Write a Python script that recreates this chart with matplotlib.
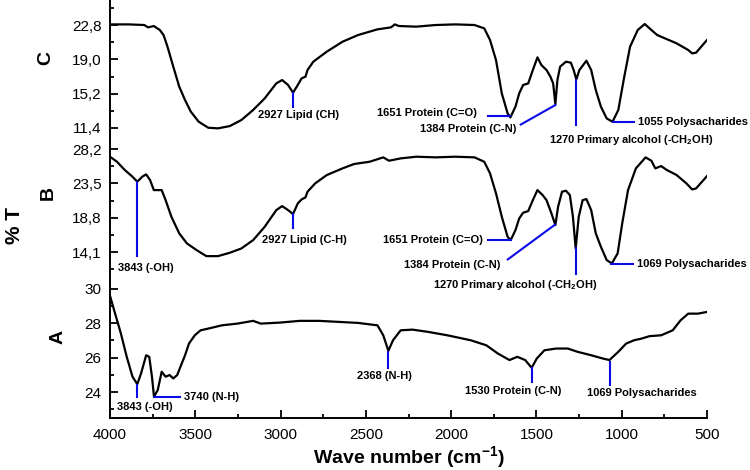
import matplotlib
matplotlib.use('Agg')
from matplotlib import pyplot as plt
from matplotlib.ticker import MultipleLocator, FixedLocator

plt.rcParams['font.family'] = ['Liberation Sans', 'DejaVu Sans']
plt.rcParams['mathtext.fontset'] = 'custom'
plt.rcParams['mathtext.rm'] = 'Liberation Sans'
plt.rcParams['mathtext.bf'] = 'Liberation Sans:bold'
plt.rcParams['mathtext.default'] = 'bf'

# spectrum C
wn_c = [3993, 3891, 3799, 3777, 3743, 3708, 3686, 3663, 3629, 3594, 3560, 3526, 3480, 3424, 3367,
        3298, 3230, 3161, 3093, 3025, 2991, 2956, 2927, 2899, 2877, 2854, 2842, 2808, 2729, 2637,
        2546, 2432, 2353, 2330, 2307, 2204, 2091, 1977, 1863, 1806, 1772, 1737, 1703, 1669, 1653,
        1623, 1601, 1578, 1548, 1521, 1494, 1471, 1441, 1418, 1402, 1389, 1377, 1361, 1327, 1298,
        1282, 1266, 1248, 1207, 1179, 1152, 1122, 1088, 1054, 1020, 985, 951, 906, 865, 826,
        792, 746, 678, 610, 587, 564, 500]
t_c = [22.87, 22.87, 22.80, 22.54, 22.69, 22.25, 21.69, 20.40, 18.19, 15.97, 14.49, 13.20, 12.09, 11.43, 11.36,
       11.61, 12.28, 13.39, 14.68, 16.34, 16.71, 16.16, 15.31, 16.16, 16.89, 17.08, 17.82, 18.74, 19.85, 20.95,
       21.69, 22.32, 22.54, 22.87, 22.69, 22.62, 22.80, 22.87, 22.80, 22.43, 21.14, 18.92, 15.23, 13.02, 12.57,
       13.76, 15.23, 16.16, 16.34, 17.82, 19.22, 18.37, 17.82, 17.08, 16.34, 14.05, 16.71, 18.19, 18.74, 18.63,
       17.82, 16.78, 17.82, 18.85, 17.82, 15.60, 13.76, 12.46, 12.09, 13.39, 17.08, 20.40, 22.25, 22.91, 22.25,
       21.69, 21.32, 20.77, 20.03, 19.66, 19.74, 21.14]

# spectrum B
wn_b = [4000, 3959, 3913, 3868, 3840, 3811, 3788, 3765, 3743, 3720, 3697, 3674, 3640, 3594, 3549,
        3492, 3435, 3367, 3298, 3230, 3161, 3093, 3025, 2991, 2956, 2927, 2899, 2877, 2854, 2842,
        2797, 2729, 2637, 2569, 2478, 2398, 2364, 2296, 2204, 2091, 1977, 1863, 1806, 1772, 1737,
        1703, 1669, 1651, 1623, 1601, 1578, 1548, 1521, 1494, 1464, 1441, 1412, 1389, 1373, 1350,
        1327, 1304, 1286, 1270, 1252, 1229, 1207, 1179, 1152, 1122, 1088, 1058, 1024, 997, 963,
        917, 860, 826, 803, 769, 735, 678, 621, 587, 564, 500]
t_b = [27.15, 26.46, 25.32, 24.41, 23.73, 24.41, 24.73, 23.95, 22.58, 22.58, 22.58, 21.21, 18.93, 16.65, 15.28,
       14.36, 13.54, 13.54, 14.00, 14.59, 15.73, 17.56, 19.84, 20.39, 19.84, 19.30, 20.76, 21.30, 21.58, 22.36,
       23.50, 24.64, 25.55, 26.15, 26.46, 27.06, 26.60, 26.92, 27.15, 27.06, 27.15, 27.06, 26.46, 24.87, 22.13,
       18.93, 16.19, 15.73, 17.10, 18.70, 19.48, 19.71, 21.21, 22.58, 21.90, 21.21, 19.39, 17.79, 20.30, 22.36,
       22.49, 21.90, 18.93, 14.59, 18.93, 21.21, 21.35, 19.84, 16.65, 14.82, 13.00, 12.54, 13.91, 18.02, 22.58,
       25.55, 27.06, 26.60, 25.55, 25.87, 25.32, 24.64, 23.50, 22.67, 22.81, 24.50]

# spectrum A
wn_a = [4000, 3970, 3936, 3902, 3868, 3840, 3818, 3788, 3770, 3754, 3742, 3720, 3697, 3674, 3651,
        3629, 3606, 3583, 3560, 3537, 3503, 3469, 3424, 3344, 3253, 3161, 3116, 3002, 2888, 2774,
        2660, 2546, 2432, 2398, 2368, 2341, 2296, 2227, 2136, 2022, 1885, 1794, 1726, 1658, 1612,
        1566, 1528, 1498, 1453, 1384, 1316, 1259, 1179, 1111, 1072, 1020, 974, 928, 883, 837,
        769, 701, 655, 610, 553, 500]
t_a = [29.60, 28.56, 27.40, 26.05, 24.89, 24.46, 25.08, 26.14, 26.05, 24.89, 23.73, 24.12, 25.18, 24.89, 24.99,
       24.79, 24.99, 25.57, 26.14, 26.82, 27.30, 27.59, 27.69, 27.88, 27.98, 28.14, 27.98, 28.04, 28.14, 28.14,
       28.08, 28.02, 27.88, 27.30, 26.40, 27.01, 27.59, 27.63, 27.50, 27.30, 27.01, 26.72, 26.24, 25.86, 26.05,
       25.86, 25.41, 25.95, 26.43, 26.53, 26.53, 26.34, 26.14, 25.95, 25.86, 26.34, 26.82, 27.01, 27.11, 27.25,
       27.30, 27.59, 28.17, 28.56, 28.56, 28.66]

yticks_c = [11.4, 15.2, 19.0, 22.8]
yticks_b = [14.1, 18.8, 23.5, 28.2]
yticks_a = [24, 26, 28, 30]
ylabels_c = ['11,4', '15,2', '19,0', '22,8']
ylabels_b = ['14,1', '18,8', '23,5', '28,2']
ylabels_a = ['24', '26', '28', '30']

# annotations: (line x0, y0, x1, y1, label, text x, text y, ha)
notes_c = [
    (2927, 15.31, 2927, 13.72, '2927 Lipid (CH)', 2892, 12.85, 'center'),
    (1783, 12.72, 1653, 12.72, '1651 Protein (C=O)', 1850, 13.05, 'right'),
    (1389, 13.94, 1592, 11.78, '1384 Protein (C-N)', 1616, 11.3, 'right'),
    (1266, 16.71, 1266, 11.70, '1270 Primary alcohol (-CH$_2$OH)', 1426, 10.07, 'left'),
    (1054, 12.06, 928, 12.06, '1055 Polysacharides', 905, 12.06, 'left'),
]
notes_b = [
    (3840, 23.73, 3840, 13.54, '3843 (-OH)', 3790, 11.9, 'center'),
    (2927, 19.30, 2927, 17.38, '2927 Lipid (C-H)', 2863, 15.73, 'center'),
    (1786, 15.73, 1648, 15.73, '1651 Protein (C=O)', 1813, 15.73, 'right'),
    (1391, 17.85, 1668, 13.09, '1384 Protein (C-N)', 1713, 12.31, 'right'),
    (1270, 14.64, 1270, 11.08, '1270 Primary alcohol (-CH$_2$OH)', 2105, 9.57, 'left'),
    (1065, 12.45, 936, 12.45, '1069 Polysacharides', 912, 12.45, 'left'),
]
notes_a = [
    (3840, 24.41, 3840, 23.71, '3843 (-OH)', 3795, 23.15, 'center'),
    (3742, 23.73, 3590, 23.73, '3740 (N-H)', 3566, 23.73, 'left'),
    (2368, 26.34, 2368, 25.37, '2368 (N-H)', 2392, 24.95, 'center'),
    (1528, 25.37, 1528, 24.56, '1530 Protein (C-N)', 1635, 24.08, 'center'),
    (1069, 25.72, 1069, 24.41, '1069 Polysacharides', 883, 23.94, 'center'),
]

W, H = 750, 470
fig = plt.figure(figsize=(W / 100, H / 100), dpi=100)
left, right = 110, 707


def make_axes(top, bottom):
    return fig.add_axes([left / W, 1 - bottom / H, (right - left) / W, (bottom - top) / H])


ax_c = make_axes(0, 141)
ax_b = make_axes(141, 282)
ax_a = make_axes(282, 418)

panels = [
    (ax_c, wn_c, t_c, (9.96, 25.57), yticks_c, ylabels_c, 1.9, notes_c),
    (ax_b, wn_b, t_b, (10.0, 29.3), yticks_b, ylabels_b, 2.35, notes_b),
    (ax_a, wn_a, t_a, (22.49, 30.4), yticks_a, ylabels_a, 1.0, notes_a),
]

blue = '#0a0ae6'
for ax, wn, t, ylim, yt, yl, half, notes in panels:
    ax.plot(wn, t, color='black', lw=1.6, solid_joinstyle='round')
    ax.set_xlim(4000, 500)
    ax.set_ylim(*ylim)
    ax.patch.set_alpha(0)
    for s in ['top', 'right', 'bottom']:
        ax.spines[s].set_visible(False)
    ax.spines['left'].set_linewidth(1.4)
    ax.yaxis.set_major_locator(FixedLocator(yt))
    ax.set_yticklabels(yl)
    ax.yaxis.set_minor_locator(FixedLocator([v - half for v in yt] + [yt[-1] + half]))
    ax.tick_params(axis='y', which='major', direction='in', length=6, width=1.3, labelsize=11, pad=6)
    ax.tick_params(axis='y', which='minor', direction='in', length=3, width=1.3)
    for x0, y0, x1, y1, label, tx, ty, ha in notes:
        ax.plot([x0, x1], [y0, y1], color=blue, lw=1.5, clip_on=False)
        ax.text(tx, ty, label, ha=ha, va='center', fontsize=8, fontweight='bold', clip_on=False)

for ax in (ax_c, ax_b):
    ax.tick_params(axis='x', which='both', bottom=False, labelbottom=False)

ax_a.spines['bottom'].set_visible(True)
ax_a.spines['bottom'].set_linewidth(1.4)
ax_a.xaxis.set_major_locator(MultipleLocator(500))
ax_a.xaxis.set_minor_locator(MultipleLocator(250))
ax_a.tick_params(axis='x', which='major', direction='in', length=6, width=1.3, labelsize=11, pad=7)
ax_a.tick_params(axis='x', which='minor', direction='in', length=3, width=1.3)
ax_a.set_xlabel('Wave number (cm$^{-1}$)', fontsize=14, fontweight='bold', labelpad=2)

fig.text(14 / W, 1 - 225 / H, '% T', rotation=90, ha='center', va='center', fontsize=15, fontweight='bold')
fig.text(46 / W, 1 - 58 / H, 'C', rotation=90, ha='center', va='center', fontsize=14, fontweight='bold')
fig.text(48 / W, 1 - 193 / H, 'B', rotation=90, ha='center', va='center', fontsize=14, fontweight='bold')
fig.text(58 / W, 1 - 337 / H, 'A', rotation=90, ha='center', va='center', fontsize=14, fontweight='bold')

plt.savefig('out.png', dpi=100)
